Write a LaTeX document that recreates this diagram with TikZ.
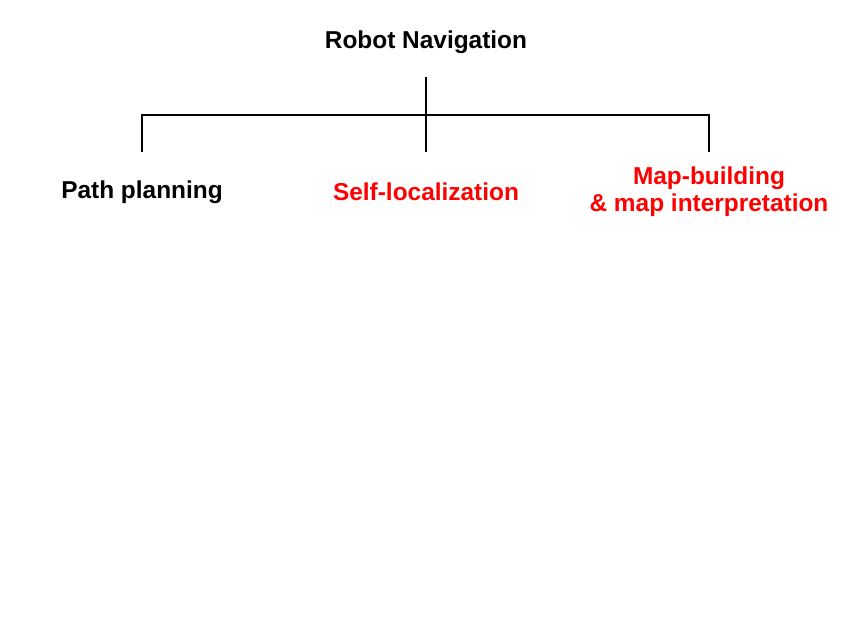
\documentclass[tikz,border=0pt]{standalone}
\usepackage{fontspec}
\setmainfont{Liberation Sans}
\usetikzlibrary{positioning}

\begin{document}
\begin{tikzpicture}[x=0.02cm, y=-0.02cm,
    label/.style={font=\bfseries\fontsize{13.9}{15.2}\selectfont, align=center, minimum height=1.6cm, inner sep=0pt},
    branch/.style={line width=1.1pt},
    stem/.style={line width=1.6pt}]
    \useasboundingbox (0,0) rectangle (850,627);
    \node[label, minimum height=1.4cm] (root) at (426,42) {Robot Navigation};
    \node[label] (path) at (142,192) {Path planning};
    \node[label, red] (self) at (426,192) {Self-localization};
    \node[label, red] (map) at (709,192) {Map-building\\\& map interpretation};
    \coordinate (hub) at (426,115);

    \draw[stem] (root.south) -- (self.north);
    \draw[branch] (path.north) |- (hub) -| (map.north);
\end{tikzpicture}
\end{document}
